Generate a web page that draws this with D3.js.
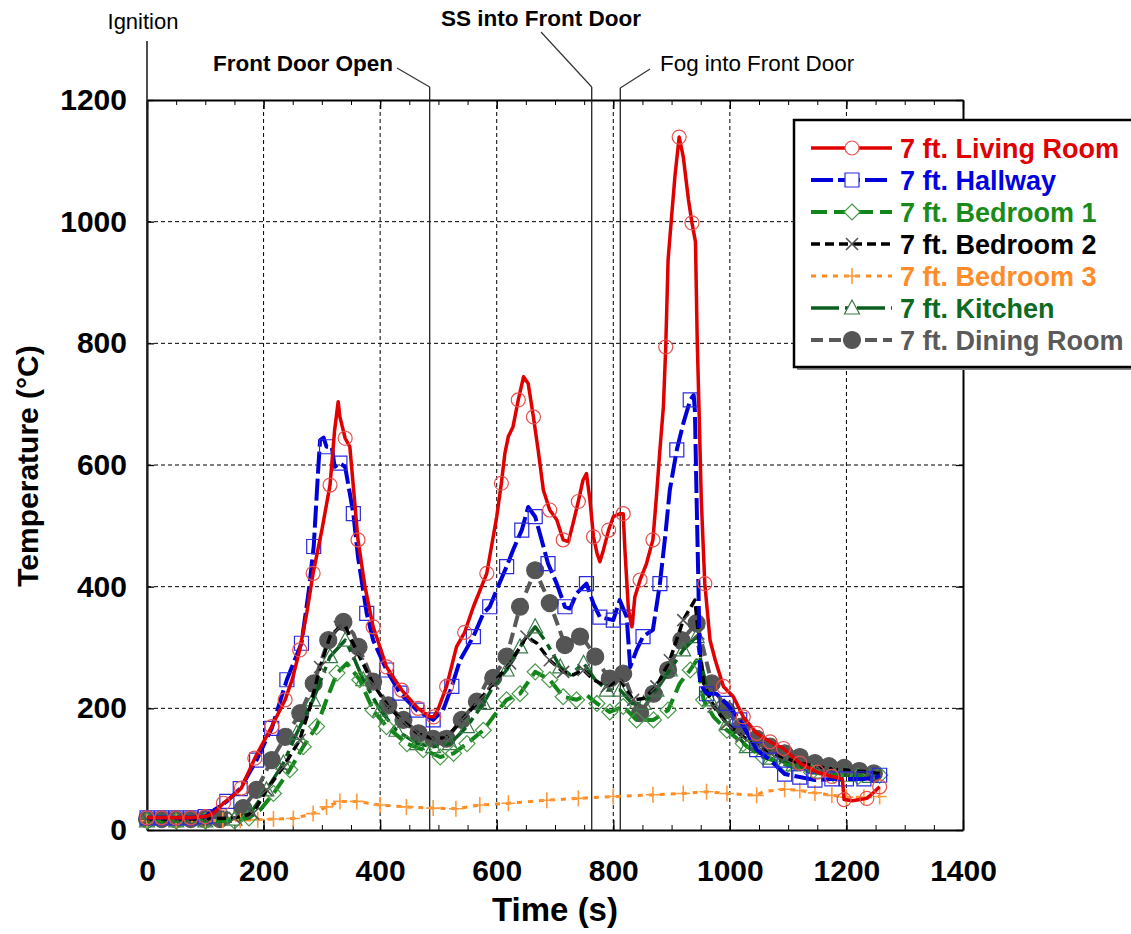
<!DOCTYPE html>
<html>
<head>
<meta charset="utf-8">
<script src="https://cdn.jsdelivr.net/npm/d3@7"></script>
<style>
body { margin: 0; background: #fff; }
svg { display: block; font-family: "Liberation Sans", Arial, sans-serif; }
</style>
</head>
<body>
<div id="chart"></div>
<script>
// time (s), temperature (°C)
var livingRoom = [[0,20],[25,20],[50,20],[75,20],[100,22],[115,28],[131,44],[150,58],[162,69],[185,118],[200,145],[214,170],[237,214],[250,250],[262,296],[274,356],[285,422],[300,493],[314,567],[322,658],[328,704],[331,679],[340,644],[348,630],[362,477],[374,400],[388,334],[400,300],[411,268],[437,230],[465,200],[485,186],[492,186],[500,200],[514,236],[531,301],[545,325],[560,367],[583,422],[600,515],[608,570],[614,619],[620,647],[628,663],[637,707],[646,745],[654,734],[663,679],[671,625],[680,559],[691,526],[703,510],[714,477],[723,474],[731,504],[740,540],[748,575],[754,586],[760,542],[766,482],[772,455],[777,441],[783,460],[792,493],[800,515],[812,520],[817,520],[820,460],[826,362],[832,334],[837,383],[846,411],[857,438],[868,477],[874,548],[880,625],[886,696],[890,794],[894,937],[900,1008],[906,1077],[913,1139],[920,1107],[929,1036],[935,998],[941,967],[944,805],[947,696],[951,542],[957,405],[966,312],[975,279],[989,236],[1006,219],[1023,186],[1046,159],[1069,145],[1092,134],[1120,110],[1150,95],[1175,88],[1193,84],[1196,50],[1210,48],[1235,52],[1247,62],[1257,71]];
var hallway = [[0,20],[25,20],[50,20],[75,20],[100,22],[111,30],[137,47],[160,68],[188,115],[214,167],[240,247],[265,307],[277,389],[286,466],[294,597],[297,641],[303,645],[308,630],[317,630],[322,597],[331,603],[340,597],[354,520],[362,449],[377,356],[388,312],[411,263],[434,225],[463,197],[491,181],[508,197],[523,236],[537,279],[560,318],[577,356],[588,367],[600,395],[617,433],[628,460],[643,493],[654,531],[666,515],[677,477],[688,438],[703,405],[717,367],[726,364],[737,389],[754,405],[766,372],[777,350],[800,345],[811,378],[823,350],[829,268],[840,296],[851,318],[868,329],[880,405],[889,482],[897,559],[909,625],[920,668],[932,707],[938,715],[940,690],[943,542],[946,405],[949,241],[960,224],[977,224],[994,208],[1017,181],[1046,132],[1069,115],[1094,92],[1120,87],[1146,82],[1175,84],[1200,84],[1230,84],[1250,86],[1257,90]];
var bedroom1 = [[0,15],[50,15],[100,15],[150,15],[175,20],[194,33],[217,60],[245,99],[268,137],[291,170],[308,214],[326,258],[343,274],[365,247],[388,197],[411,170],[446,142],[474,132],[503,120],[526,126],[549,142],[577,164],[594,186],[617,214],[640,224],[666,260],[691,247],[714,219],[737,214],[754,222],[772,208],[794,194],[817,203],[840,181],[869,181],[894,197],[914,241],[932,263],[943,279],[955,214],[972,186],[995,164],[1023,142],[1057,120],[1097,107],[1140,95],[1180,90],[1220,88],[1257,90]];
var bedroom2 = [[0,18],[50,18],[100,18],[150,20],[182,27],[205,66],[234,104],[262,148],[280,203],[297,268],[314,318],[331,334],[340,336],[348,318],[362,290],[388,240],[414,203],[440,178],[466,158],[491,150],[514,152],[540,181],[571,214],[594,241],[623,274],[651,318],[669,307],[691,279],[714,260],[731,255],[749,263],[766,247],[789,236],[812,247],[834,214],[852,216],[874,236],[897,279],[920,345],[940,378],[946,323],[955,241],[972,203],[995,175],[1020,155],[1046,140],[1069,128],[1095,118],[1120,110],[1150,104],[1180,100],[1210,98],[1240,95],[1257,93]];
var bedroom3 = [[0,15],[50,15],[100,15],[130,16],[160,16],[190,17],[217,18],[251,19],[285,27],[308,38],[331,47],[360,47],[400,41],[445,38],[491,36],[530,35],[571,41],[620,44],[686,49],[740,52],[800,55],[868,58],[920,60],[960,63],[995,60],[1046,57],[1057,63],[1094,67],[1120,65],[1146,61],[1175,57],[1200,54],[1230,54],[1257,55]];
var kitchen = [[0,15],[50,15],[100,15],[150,18],[177,27],[205,66],[234,110],[257,159],[285,214],[314,285],[340,312],[354,285],[371,247],[400,197],[428,164],[463,142],[491,137],[520,142],[549,170],[577,208],[594,236],[617,263],[640,301],[666,334],[686,307],[709,268],[726,255],[749,274],[769,247],[789,230],[812,230],[832,208],[852,208],[874,230],[897,263],[920,296],[943,318],[952,268],[966,214],[995,175],[1029,137],[1069,118],[1109,107],[1150,95],[1200,90],[1240,88],[1257,90]];
var diningRoom = [[0,18],[25,18],[50,18],[75,18],[100,18],[125,18],[142,33],[165,36],[188,66],[214,115],[237,153],[263,192],[286,241],[311,312],[337,342],[354,323],[363,301],[388,244],[414,205],[440,181],[466,159],[491,150],[514,150],[540,181],[566,211],[583,244],[594,250],[617,285],[640,367],[666,427],[691,373],[706,334],[717,304],[729,312],[743,318],[754,307],[769,285],[783,263],[794,249],[817,257],[834,214],[846,192],[869,224],[894,263],[917,312],[943,340],[955,296],[969,241],[994,197],[1020,170],[1046,150],[1069,137],[1094,126],[1120,120],[1146,110],[1170,105],[1196,102],[1222,97],[1247,93]];

var seriesNames = ["7 ft. Living Room", "7 ft. Hallway", "7 ft. Bedroom 1", "7 ft. Bedroom 2", "7 ft. Bedroom 3", "7 ft. Kitchen", "7 ft. Dining Room"];
var seriesData = [livingRoom, hallway, bedroom1, bedroom2, bedroom3, kitchen, diningRoom];
var xTicks = [0, 200, 400, 600, 800, 1000, 1200, 1400];
var yTicks = [0, 200, 400, 600, 800, 1000, 1200];
var eventTimes = [0, 485, 763, 812];
var eventLabels = ["Ignition", "Front Door Open", "SS into Front Door", "Fog into Front Door"];

// line / marker look, same order as seriesNames
var styles = [
	{color: "#e00000", text: "#e00000", width: 3.5, dash: null, marker: "circle", mcolor: "#e85050"},
	{color: "#0000d8", text: "#0000e0", width: 4, dash: "22,5", marker: "square", mcolor: "#2a2ae0"},
	{color: "#12861a", text: "#1a8a1a", width: 4, dash: "16,7", marker: "diamond", mcolor: "#4a9a4a"},
	{color: "#000000", text: "#000000", width: 3.5, dash: "9,5", marker: "x", mcolor: "#555555"},
	{color: "#ff8a1e", text: "#ff8c2a", width: 3, dash: "5,6", marker: "plus", mcolor: "#ff9a3c"},
	{color: "#0c5e20", text: "#0c6a22", width: 3.5, dash: "28,6,6,6", marker: "triangle", mcolor: "#3a7a4a"},
	{color: "#595959", text: "#5a5a5a", width: 4, dash: "12,6", marker: "dot", mcolor: "#555555"}
];

var svg = d3.select("#chart").append("svg")
	.attr("width", 1131)
	.attr("height", 934);

var x = d3.scaleLinear().domain([0, 1400]).range([147, 963]);
var y = d3.scaleLinear().domain([0, 1200]).range([830, 100]);

//网格
var grid = svg.append("g");
grid.selectAll(".gx").data(xTicks.filter(function (d) { return d > 0 && d < 1400; }))
	.enter().append("line")
	.attr("x1", function (d) { return x(d); })
	.attr("x2", function (d) { return x(d); })
	.attr("y1", y(0)).attr("y2", y(1200))
	.attr("stroke", "#000").attr("stroke-width", 1).attr("stroke-dasharray", "4,3");
grid.selectAll(".gy").data(yTicks.filter(function (d) { return d > 0 && d < 1200; }))
	.enter().append("line")
	.attr("y1", function (d) { return y(d); })
	.attr("y2", function (d) { return y(d); })
	.attr("x1", x(0)).attr("x2", x(1400))
	.attr("stroke", "#000").attr("stroke-width", 1).attr("stroke-dasharray", "4,3");

function styleAxis(g) {
	g.attr("font-family", null).attr("font-size", null);
	g.select(".domain").attr("stroke-width", 2);
	g.selectAll(".tick line").attr("stroke-width", 1.3);
	g.selectAll("text").attr("font-size", 30).attr("font-weight", "bold").attr("fill", "#000");
}

var minor = d3.range(0, 1401, 50);

svg.append("g").attr("transform", "translate(0,830)")
	.call(d3.axisBottom(x).tickValues(minor).tickSize(-5).tickFormat(""))
	.call(function (g) { g.select(".domain").remove(); });
svg.append("g").attr("transform", "translate(0,830)")
	.call(d3.axisBottom(x).tickValues(xTicks).tickSizeInner(-10).tickSizeOuter(0).tickPadding(30).tickFormat(d3.format("d")))
	.call(styleAxis);

svg.append("g").attr("transform", "translate(0,100)")
	.call(d3.axisTop(x).tickValues(minor).tickSize(-5).tickFormat(""))
	.call(function (g) { g.select(".domain").remove(); });
svg.append("g").attr("transform", "translate(0,100)")
	.call(d3.axisTop(x).tickValues(xTicks).tickSizeInner(-9).tickSizeOuter(0).tickFormat(""))
	.call(styleAxis);

svg.append("g").attr("transform", "translate(147,0)")
	.call(d3.axisLeft(y).tickValues(yTicks).tickSizeInner(-7).tickSizeOuter(0).tickPadding(20).tickFormat(d3.format("d")))
	.call(styleAxis);

svg.append("g").attr("transform", "translate(963,0)")
	.call(d3.axisRight(y).tickValues(yTicks).tickSizeInner(-7).tickSizeOuter(0).tickFormat(""))
	.call(styleAxis);

// 事件竖线
var evTop = [41, 87, 87, 88];
var ev = svg.append("g");
eventTimes.forEach(function (t, i) {
	ev.append("line")
		.attr("x1", x(t)).attr("x2", x(t))
		.attr("y1", evTop[i]).attr("y2", y(0))
		.attr("stroke", "#222").attr("stroke-width", i === 0 ? 1.6 : 1.3);
});
// leader lines
var leaders = [null, [397, 68, x(eventTimes[1]), 87], [541, 32, x(eventTimes[2]), 87], [650, 69, x(eventTimes[3]), 88]];
leaders.forEach(function (l) {
	if (!l) return;
	ev.append("line").attr("x1", l[0]).attr("y1", l[1]).attr("x2", l[2]).attr("y2", l[3])
		.attr("stroke", "#333").attr("stroke-width", 1.2);
});
ev.append("text").attr("x", 143).attr("y", 29).attr("text-anchor", "middle")
	.attr("font-size", 22).text(eventLabels[0]);
ev.append("text").attr("x", 393).attr("y", 71).attr("text-anchor", "end")
	.attr("font-size", 22.5).attr("font-weight", "bold").text(eventLabels[1]);
ev.append("text").attr("x", 541).attr("y", 26).attr("text-anchor", "middle")
	.attr("font-size", 22.5).attr("font-weight", "bold").text(eventLabels[2]);
ev.append("text").attr("x", 660).attr("y", 71).attr("text-anchor", "start")
	.attr("font-size", 22.4).text(eventLabels[3]);

// markers
function markerPath(type, cx, cy) {
	var p = d3.path();
	if (type === "circle") {
		p.moveTo(cx + 7, cy); p.arc(cx, cy, 7, 0, 2 * Math.PI);
	} else if (type === "dot") {
		p.moveTo(cx + 8.5, cy); p.arc(cx, cy, 8.5, 0, 2 * Math.PI);
	} else if (type === "square") {
		p.rect(cx - 7, cy - 7, 14, 14);
	} else if (type === "diamond") {
		p.moveTo(cx, cy - 8); p.lineTo(cx + 8, cy); p.lineTo(cx, cy + 8); p.lineTo(cx - 8, cy); p.closePath();
	} else if (type === "triangle") {
		p.moveTo(cx, cy - 8); p.lineTo(cx + 7.5, cy + 6); p.lineTo(cx - 7.5, cy + 6); p.closePath();
	} else if (type === "x") {
		p.moveTo(cx - 6, cy - 6); p.lineTo(cx + 6, cy + 6);
		p.moveTo(cx - 6, cy + 6); p.lineTo(cx + 6, cy - 6);
	} else if (type === "plus") {
		p.moveTo(cx - 7, cy); p.lineTo(cx + 7, cy);
		p.moveTo(cx, cy - 8); p.lineTo(cx, cy + 8);
	}
	return p.toString();
}

function markerFill(st) {
	return st.marker === "dot" ? st.mcolor : "none";
}

var line = d3.line()
	.x(function (d) { return x(d[0]); })
	.y(function (d) { return y(d[1]); });

var drawOrder = [6, 5, 4, 2, 3, 1, 0];
var plot = svg.append("g");
drawOrder.forEach(function (i) {
	var st = styles[i];
	var g = plot.append("g");
	g.append("path").datum(seriesData[i])
		.attr("d", line)
		.attr("fill", "none")
		.attr("stroke", st.color)
		.attr("stroke-width", st.width)
		.attr("stroke-dasharray", st.dash)
		.attr("stroke-linejoin", "round");
	var last = -1e9;
	var pts = seriesData[i].filter(function (d) {
		if (d[0] - last >= 21) { last = d[0]; return true; }
		return false;
	});
	g.selectAll("path.m").data(pts).enter().append("path")
		.attr("class", "m")
		.attr("d", function (d) { return markerPath(st.marker, x(d[0]), y(d[1])); })
		.attr("fill", markerFill(st))
		.attr("stroke", st.mcolor)
		.attr("stroke-width", st.marker === "x" || st.marker === "plus" ? 1.6 : 1.2);
});

// 图例
var lg = svg.append("g");
lg.append("rect").attr("x", 797).attr("y", 123).attr("width", 360).attr("height", 247)
	.attr("fill", "#888");
lg.append("rect").attr("x", 794).attr("y", 120).attr("width", 360).attr("height", 247)
	.attr("fill", "#fff").attr("stroke", "#000").attr("stroke-width", 2.5);
var rowY = d3.scaleLinear().domain([0, 6]).range([148, 340]);
seriesNames.forEach(function (name, i) {
	var st = styles[i];
	var ry = rowY(i);
	lg.append("line").attr("x1", 811).attr("x2", 892).attr("y1", ry).attr("y2", ry)
		.attr("stroke", st.color).attr("stroke-width", st.width)
		.attr("stroke-dasharray", st.dash);
	lg.append("path").attr("d", markerPath(st.marker, 852, ry))
		.attr("fill", st.marker === "dot" ? st.mcolor : "#fff")
		.attr("stroke", st.mcolor)
		.attr("stroke-width", st.marker === "x" || st.marker === "plus" ? 1.6 : 1.2);
	lg.append("text").attr("x", 900).attr("y", ry).attr("dy", "0.36em")
		.attr("font-size", 27).attr("font-weight", "bold")
		.attr("fill", st.text).text(name);
});

// axis titles
svg.append("text").attr("x", 555).attr("y", 921).attr("text-anchor", "middle")
	.attr("font-size", 33).attr("font-weight", "bold").text("Time (s)");
svg.append("text").attr("transform", "translate(38,466) rotate(-90)")
	.attr("text-anchor", "middle").attr("font-size", 30).attr("font-weight", "bold")
	.text("Temperature (°C)");
</script>
</body>
</html>
